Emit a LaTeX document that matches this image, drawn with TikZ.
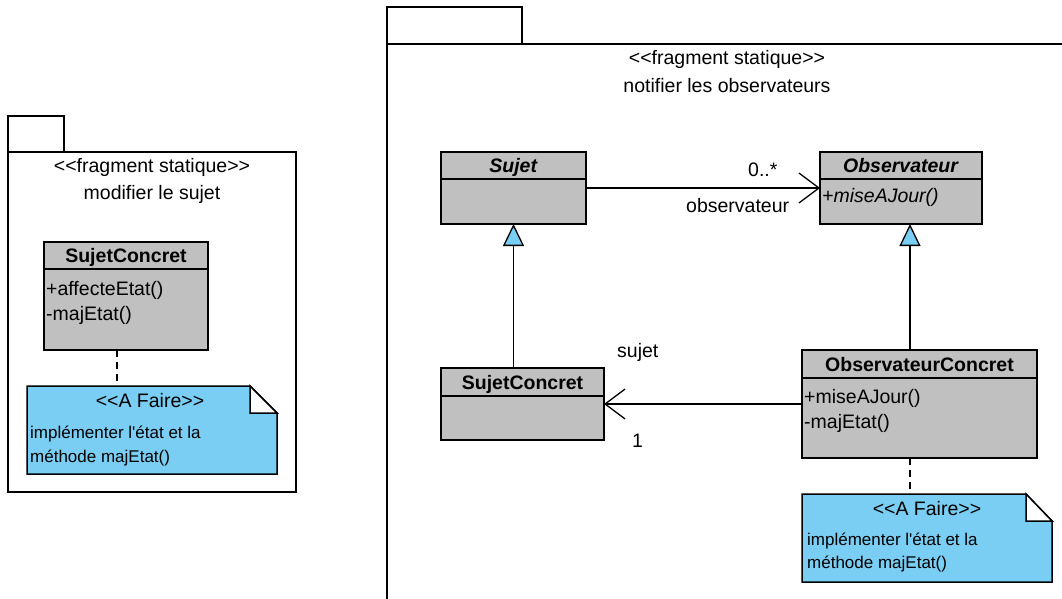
\documentclass[tikz,border=0pt]{standalone}
\usepackage{fontspec}
\setmainfont{Liberation Sans}[Ligatures=TeXOff]
\usetikzlibrary{arrows.meta,calc}
\definecolor{clsgray}{RGB}{192,192,192}
\definecolor{noteblue}{RGB}{122,206,244}
\begin{document}
\begin{tikzpicture}[x=1bp,y=-1bp,
  cls/.style={draw=black, line width=1.5bp, fill=clsgray, rectangle, inner sep=0pt, outer sep=0pt, anchor=north west},
  notebox/.style={rectangle, inner sep=0pt, outer sep=0pt, anchor=north west},
  txt/.style={font=\fontsize{19.5bp}{23bp}\selectfont, inner sep=0pt, anchor=base},
  attr/.style={font=\fontsize{19.5bp}{23bp}\selectfont, inner sep=0pt, anchor=base west},
  notetxt/.style={font=\fontsize{17bp}{20bp}\selectfont, inner sep=0pt, anchor=base west},
  pkg/.style={draw=black, line width=1.5bp},
  assoc/.style={line width=1.3bp, -{Straight Barb[length=20bp,width=30bp,line width=1.3bp]}},
  gen/.style={line width=1.4bp, -{Triangle[length=22bp,width=21bp,fill=noteblue,line width=1.3bp]}},
  notelink/.style={line width=1.3bp, dash pattern=on 7bp off 5bp},
  notedraw/.style={draw=black, line width=1.5bp, fill=noteblue},
  folddraw/.style={draw=black, line width=1.5bp, fill=white}
]
\clip (0,0) rectangle (1062,599);
\fill[white] (0,0) rectangle (1062,599);

% ---------- left package ----------
\draw[pkg] (8,116) rectangle (64,152);
\draw[pkg] (8,152) rectangle (296,492);
\node[txt] (lp1) at (152,173) {<{}<fragment statique>{}>};
\node[txt] (lp2) at (152,200) {modifier le sujet};

% left SujetConcret
\node[cls, minimum width=164bp, minimum height=108bp] (lsc) at (44,242) {};
\draw[line width=1.5bp] ($(lsc.north west)+(0,27)$) -- ($(lsc.north east)+(0,27)$);
\node[txt] (lsch) at ($(lsc.north)+(0,21)$) {\textbf{SujetConcret}};
\node[attr] (lsca1) at ($(lsc.north west)+(2,54)$) {+affecteEtat()};
\node[attr] (lsca2) at ($(lsc.north west)+(2,78)$) {-majEtat()};

% left note
\node[notebox, minimum width=250bp, minimum height=88bp] (ln) at (27,386) {};
\draw[notedraw] (ln.north west) -- ($(ln.north east)+(-27,0)$) -- ($(ln.north east)+(0,27)$) -- (ln.south east) -- (ln.south west) -- cycle;
\draw[folddraw] ($(ln.north east)+(-27,0)$) -- ($(ln.north east)+(-27,27)$) -- ($(ln.north east)+(0,27)$) -- cycle;
\node[txt] (lnh) at ($(ln.north west)+(123,21)$) {<{}<A Faire>{}>};
\node[notetxt] (lnt1) at ($(ln.north west)+(3,52)$) {implémenter l'état et la};
\node[notetxt] (lnt2) at ($(ln.north west)+(3,76)$) {méthode majEtat()};
\draw[notelink] ($(lsc.south west)+(73,0)$) -- ($(ln.north west)+(90,0)$);

% ---------- right package ----------
\draw[pkg] (387,7) rectangle (522,44);
\draw[pkg] (387,44) rectangle (1080,620);
\node[txt] (rp1) at (727,65) {<{}<fragment statique>{}>};
\node[txt] (rp2) at (727,93) {notifier les observateurs};

% Sujet
\node[cls, minimum width=145bp, minimum height=72bp] (suj) at (441,152) {};
\draw[line width=1.5bp] ($(suj.north west)+(0,27)$) -- ($(suj.north east)+(0,27)$);
\node[txt] (sujh) at ($(suj.north)+(0,21)$) {\textbf{\textit{Sujet}}};

% Observateur
\node[cls, minimum width=162bp, minimum height=72bp] (obs) at (820,152) {};
\draw[line width=1.5bp] ($(obs.north west)+(0,27)$) -- ($(obs.north east)+(0,27)$);
\node[txt] (obsh) at ($(obs.north)+(0,21)$) {\textbf{\textit{Observateur}}};
\node[attr] (obsa1) at ($(obs.north west)+(2,51)$) {\textit{+miseAJour()}};

% SujetConcret
\node[cls, minimum width=163bp, minimum height=72bp] (sc) at (441,368) {};
\draw[line width=1.5bp] ($(sc.north west)+(0,28)$) -- ($(sc.north east)+(0,28)$);
\node[txt] (sch) at ($(sc.north)+(0,21)$) {\textbf{SujetConcret}};

% ObservateurConcret
\node[cls, minimum width=235bp, minimum height=108bp] (oc) at (802,350) {};
\draw[line width=1.5bp] ($(oc.north west)+(0,28)$) -- ($(oc.north east)+(0,28)$);
\node[txt] (och) at ($(oc.north)+(0,21)$) {\textbf{ObservateurConcret}};
\node[attr] (oca1) at ($(oc.north west)+(2,53)$) {+miseAJour()};
\node[attr] (oca2) at ($(oc.north west)+(2,78)$) {-majEtat()};

% right note
\node[notebox, minimum width=250bp, minimum height=88bp] (rn) at (802,494) {};
\draw[notedraw] (rn.north west) -- ($(rn.north east)+(-26,0)$) -- ($(rn.north east)+(0,27)$) -- (rn.south east) -- (rn.south west) -- cycle;
\draw[folddraw] ($(rn.north east)+(-26,0)$) -- ($(rn.north east)+(-26,27)$) -- ($(rn.north east)+(0,27)$) -- cycle;
\node[txt] (rnh) at ($(rn.north west)+(125,21)$) {<{}<A Faire>{}>};
\node[notetxt] (rnt1) at ($(rn.north west)+(5,51)$) {implémenter l'état et la};
\node[notetxt] (rnt2) at ($(rn.north west)+(5,74)$) {méthode majEtat()};
\draw[notelink] ($(oc.south west)+(108,0)$) -- ($(rn.north west)+(108,0)$);

% connectors
\draw[assoc] (suj.east) -- (obs.west);
\node[txt, anchor=base west] (l0) at (748,177) {0..*};
\node[txt, anchor=base west] (lobs) at (686,213) {observateur};

\draw[assoc] (oc.west |- sc.east) -- (sc.east);
\node[txt, anchor=base west] (lsuj) at (617,357) {sujet};
\node[txt, anchor=base west] (l1) at (632,447) {1};

\draw[gen] (sc.north -| suj.south) -- (suj.south);
\coordinate (g2) at ($(oc.north west)+(108,0)$);
\draw[gen] (g2) -- (g2 |- obs.south);
\end{tikzpicture}
\end{document}
